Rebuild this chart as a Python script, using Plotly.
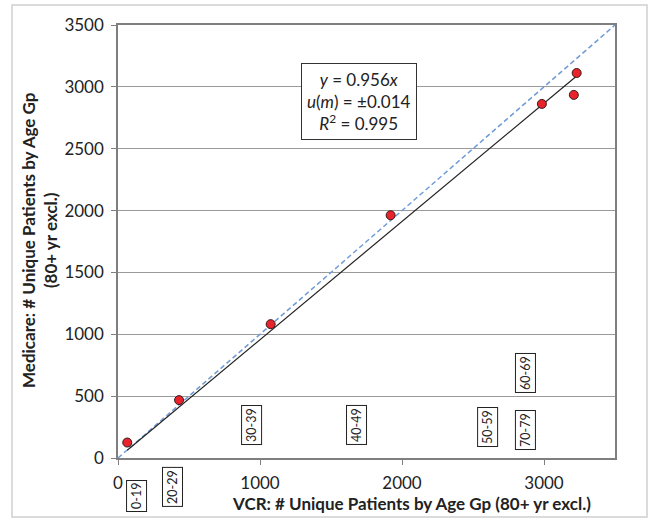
import plotly.graph_objects as go

# Data
vcr = [65, 430, 1075, 1920, 2985, 3230, 3210]
medicare = [125, 468, 1082, 1962, 2862, 3112, 2935]
slope = 0.956
age_groups = ["0-19", "20-29", "30-39", "40-49", "50-59", "60-69", "70-79"]
label_x = [134, 387, 944, 1683, 2606, 2866, 2866]
label_y = [-307, -234, 267, 267, 251, 687, 226]

FONT = "Lato"
W, H = 656, 519
ML, MR, MT, MB = 118, 41, 25, 61
PW, PH = W - ML - MR, H - MT - MB
XMAX = YMAX = 3500

def px2paper_x(px):
    return (px - ML) / PW

def px2paper_y(py):
    return (H - MB - py) / PH

fig = go.Figure()

# 1:1 line
fig.add_trace(go.Scatter(x=[0, XMAX], y=[0, YMAX], mode="lines",
                         line=dict(color="#6f9bd8", width=1.5, dash="5px,3px"),
                         hoverinfo="skip", showlegend=False))
# fit line
xmin, xmax = min(vcr), max(vcr)
fig.add_trace(go.Scatter(x=[xmin, xmax], y=[slope * xmin, slope * xmax], mode="lines",
                         line=dict(color="#222222", width=1.2),
                         hoverinfo="skip", showlegend=False))
# points
fig.add_trace(go.Scatter(x=vcr, y=medicare, mode="markers",
                         marker=dict(color="#e8232b", size=9,
                                     line=dict(color="#3a1a1a", width=1)),
                         showlegend=False))

annotations = []
for txt, lx, ly in zip(age_groups, label_x, label_y):
    annotations.append(dict(x=lx, y=ly / YMAX, xref="x", yref="paper", text=txt, textangle=-90,
                            xanchor="center", yanchor="middle",
                            showarrow=False, font=dict(family=FONT, size=12.5, color="#222"),
                            bordercolor="#222", borderwidth=1, borderpad=2,
                            bgcolor="white"))

annotations.append(dict(x=1697, y=2882, xref="x", yref="y",
                        text="<i>y</i> = 0.956<i>x</i><br><i>u</i>(<i>m</i>) = ±0.014<br><i>R</i><sup>2</sup> = 0.995",
                        showarrow=False, align="center", xanchor="center", yanchor="middle",
                        font=dict(family=FONT, size=17, color="#222"),
                        bordercolor="#333", borderwidth=1, borderpad=5, bgcolor="white"))

# x title
annotations.append(dict(x=px2paper_x(411), y=px2paper_y(503), xref="paper", yref="paper",
                        xanchor="center", yanchor="middle",
                        text="<b>VCR: # Unique Patients by Age Gp (80+ yr excl.)</b>",
                        showarrow=False, font=dict(family=FONT, size=17, color="#222")))
# y title
annotations.append(dict(x=px2paper_x(39), y=px2paper_y(240), xref="paper", yref="paper",
                        xanchor="center", yanchor="middle",
                        text="<b>Medicare: # Unique Patients by Age Gp<br>(80+ yr excl.)</b>",
                        textangle=-90, showarrow=False,
                        font=dict(family=FONT, size=17, color="#222")))

shapes = [dict(type="rect", xref="paper", yref="paper",
               x0=px2paper_x(12), x1=px2paper_x(647), y0=px2paper_y(517), y1=px2paper_y(5),
               line=dict(color="#d0d0d0", width=1.5), layer="below")]

fig.update_layout(
    width=W, height=H,
    margin=dict(l=ML, r=MR, t=MT, b=MB, autoexpand=False),
    paper_bgcolor="white", plot_bgcolor="white",
    font=dict(family=FONT, size=17, color="#222"),
    annotations=annotations, shapes=shapes,
    xaxis=dict(range=[0, XMAX], tickvals=[0, 1000, 2000, 3000], showgrid=False,
               zeroline=False, showline=True, linecolor="#7f7f7f", linewidth=1.5, mirror=True,
               ticks="outside", ticklen=5, tickcolor="#7f7f7f",
               tickfont=dict(family=FONT, size=17, color="#222"), ticklabelstandoff=4),
    yaxis=dict(range=[0, YMAX], dtick=500, showgrid=True, gridcolor="#9a9a9a", gridwidth=1,
               zeroline=False, showline=True, linecolor="#7f7f7f", linewidth=1.5, mirror=True,
               ticks="outside", ticklen=5, tickcolor="#7f7f7f",
               tickfont=dict(family=FONT, size=17, color="#222"), ticklabelstandoff=4),
)

fig.write_html("out.html", config={"displayModeBar": False},
               post_script="document.body.style.margin='0';document.body.style.overflow='hidden';")
